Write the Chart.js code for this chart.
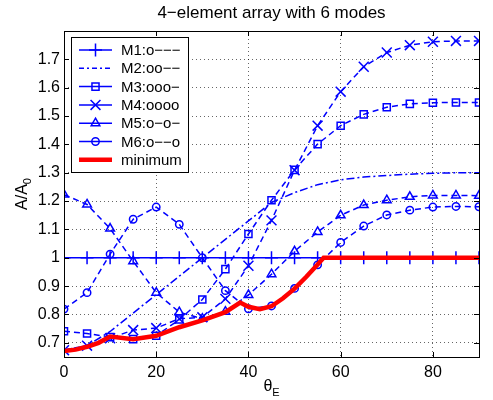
<!DOCTYPE html>
<html>
<head>
<meta charset="utf-8">
<script src="https://cdn.jsdelivr.net/npm/chart.js@4.4.1/dist/chart.umd.min.js"></script>
<style>
  html, body { margin: 0; padding: 0; background: #fff; }
</style>
</head>
<body>
<canvas id="modesChart" width="493" height="400"></canvas>
<script>
const titleText = "4\u2212element array with 6 modes";
const theta = [0, 5, 10, 15, 20, 25, 30, 35, 40, 45, 50, 55, 60, 65, 70, 75, 80, 85, 90];
const m1 = [1, 1, 1, 1, 1, 1, 1, 1, 1, 1, 1, 1, 1, 1, 1, 1, 1, 1, 1];
const m2 = [0.675, 0.69, 0.74, 0.805, 0.87, 0.935, 1.0, 1.065, 1.13, 1.195, 1.23, 1.258, 1.275, 1.285, 1.29, 1.295, 1.298, 1.3, 1.3];
const m3 = [0.741, 0.733, 0.72, 0.713, 0.725, 0.782, 0.853, 0.96, 1.084, 1.203, 1.31, 1.401, 1.466, 1.506, 1.531, 1.543, 1.547, 1.548, 1.548];
const m4 = [0.674, 0.69, 0.716, 0.745, 0.752, 0.785, 0.79, 0.855, 0.972, 1.132, 1.309, 1.466, 1.586, 1.674, 1.724, 1.75, 1.762, 1.765, 1.765];
const m5 = [1.223, 1.188, 1.103, 0.988, 0.877, 0.808, 0.785, 0.81, 0.869, 0.942, 1.023, 1.091, 1.15, 1.186, 1.203, 1.215, 1.22, 1.22, 1.219];
const m6 = [0.819, 0.877, 1.013, 1.136, 1.179, 1.118, 1.0, 0.884, 0.82, 0.83, 0.892, 0.975, 1.054, 1.112, 1.151, 1.168, 1.179, 1.181, 1.18];
const minTheta = [0, 2.5, 5, 7.5, 10, 15, 20, 25, 30, 35, 38.2, 40, 42.5, 45, 47.5, 50, 52.5, 55, 56.3, 90];
const minValues = [0.671, 0.676, 0.686, 0.7, 0.722, 0.713, 0.725, 0.755, 0.779, 0.808, 0.842, 0.827, 0.819, 0.829, 0.857, 0.891, 0.932, 0.976, 1.0, 1.0];
const xTicks = [0, 20, 40, 60, 80];
const yTicks = [0.7, 0.8, 0.9, 1.0, 1.1, 1.2, 1.3, 1.4, 1.5, 1.6, 1.7];

const fontFamily = '"Liberation Sans", Arial, Helvetica, sans-serif';
const blue = "#0000ff";
const red = "#ff0000";

function pts(xs, ys) {
  return xs.map((t, i) => ({ x: t, y: ys[i] }));
}

function modeSet(label, values, style, radius, dash, legendDash) {
  return {
    label: label,
    data: pts(theta, values),
    borderColor: blue,
    borderWidth: 1.5,
    borderDash: dash,
    legendDash: legendDash,
    pointStyle: style,
    pointRadius: radius,
    pointBorderWidth: 1.5,
    pointBorderColor: blue,
    pointBackgroundColor: "rgba(0,0,0,0)",
    tension: 0,
    order: 1,
  };
}

// title, axis box, inward ticks, axis labels and legend
const framePlugin = {
  id: "frame",
  afterDraw(chart) {
    const ctx = chart.ctx;
    const a = chart.chartArea;
    const xs = chart.scales.x;
    const ys = chart.scales.y;
    ctx.save();

    ctx.fillStyle = "#000";
    ctx.font = "17px " + fontFamily;
    ctx.textAlign = "center";
    ctx.textBaseline = "middle";
    ctx.fillText(titleText, (a.left + a.right) / 2, 13);
    ctx.textAlign = "left";

    ctx.strokeStyle = "#000";
    ctx.lineWidth = 1;
    ctx.setLineDash([]);
    ctx.strokeRect(a.left + 0.5, a.top + 0.5, a.right - a.left, a.bottom - a.top);
    ctx.beginPath();
    xTicks.forEach((v) => {
      const px = Math.round(xs.getPixelForValue(v)) + 0.5;
      ctx.moveTo(px, a.bottom);
      ctx.lineTo(px, a.bottom - 5);
      ctx.moveTo(px, a.top);
      ctx.lineTo(px, a.top + 5);
    });
    yTicks.forEach((v) => {
      const py = Math.round(ys.getPixelForValue(v)) + 0.5;
      ctx.moveTo(a.left, py);
      ctx.lineTo(a.left + 5, py);
      ctx.moveTo(a.right, py);
      ctx.lineTo(a.right - 5, py);
    });
    ctx.stroke();

    // x label: theta_E
    ctx.textBaseline = "alphabetic";
    ctx.font = "16px " + fontFamily;
    const th = "\u03b8";
    const w1 = ctx.measureText(th).width;
    ctx.font = "11px " + fontFamily;
    const w2 = ctx.measureText("E").width;
    const cx = (a.left + a.right) / 2 - (w1 + w2) / 2;
    ctx.font = "16px " + fontFamily;
    ctx.fillText(th, cx, 391);
    ctx.font = "11px " + fontFamily;
    ctx.fillText("E", cx + w1, 396);

    // y label: A/A_0
    ctx.save();
    ctx.translate(27, (a.top + a.bottom) / 2);
    ctx.rotate(-Math.PI / 2);
    ctx.font = "16px " + fontFamily;
    const s1 = "A/A";
    const v1 = ctx.measureText(s1).width;
    ctx.font = "11px " + fontFamily;
    const v2 = ctx.measureText("0").width;
    const sx = -(v1 + v2) / 2;
    ctx.font = "16px " + fontFamily;
    ctx.fillText(s1, sx, 0);
    ctx.font = "11px " + fontFamily;
    ctx.fillText("0", sx + v1, 4);
    ctx.restore();

    // legend
    const lx = a.left + 7, ly = a.top + 6, lw = 117, lh = 135;
    ctx.fillStyle = "#fff";
    ctx.fillRect(lx, ly, lw, lh);
    ctx.strokeStyle = "#000";
    ctx.lineWidth = 1;
    ctx.strokeRect(lx + 0.5, ly + 0.5, lw, lh);
    ctx.font = "15px " + fontFamily;
    ctx.textBaseline = "middle";
    chart.data.datasets.forEach((ds, i) => {
      const ry = ly + 13 + i * 18.3;
      const x0 = lx + 8, x1 = lx + 41;
      ctx.strokeStyle = ds.borderColor;
      ctx.lineWidth = ds.borderWidth;
      ctx.setLineDash(ds.legendDash || []);
      ctx.beginPath();
      ctx.moveTo(x0, ry);
      ctx.lineTo(x1, ry);
      ctx.stroke();
      ctx.setLineDash([]);
      if (ds.pointRadius > 0 && Chart.helpers && Chart.helpers.drawPoint) {
        ctx.lineWidth = ds.pointBorderWidth;
        ctx.fillStyle = "rgba(0,0,0,0)";
        Chart.helpers.drawPoint(ctx, {
          pointStyle: ds.pointStyle,
          radius: ds.pointRadius,
          rotation: 0,
          borderWidth: ds.pointBorderWidth,
        }, (x0 + x1) / 2, ry);
      }
      ctx.fillStyle = "#000";
      ctx.fillText(ds.label, lx + 50, ry + 1);
    });
    ctx.restore();
  },
};

const datasets = [
  modeSet("M1:o\u2212\u2212\u2212", m1, "cross", 6.5, [], []),
  modeSet("M2:oo\u2212\u2212", m2, false, 0, [8, 3, 2, 3], [5, 3, 2, 3]),
  modeSet("M3:ooo\u2212", m3, "rect", 5, [6, 4], []),
  modeSet("M4:oooo", m4, "crossRot", 7, [6, 4], []),
  modeSet("M5:o\u2212o\u2212", m5, "triangle", 5, [6, 4], []),
  modeSet("M6:o\u2212\u2212o", m6, "circle", 3.7, [6, 4], []),
  {
    label: "minimum",
    data: pts(minTheta, minValues),
    borderColor: red,
    borderWidth: 4.5,
    pointRadius: 0,
    tension: 0,
    order: 0,
  },
];

const chart = new Chart(document.getElementById("modesChart").getContext("2d"), {
  type: "line",
  data: { datasets: datasets },
  options: {
    responsive: false,
    animation: false,
    devicePixelRatio: 1,
    layout: { padding: { left: 0, right: 14, top: 31, bottom: 0 } },
    plugins: {
      legend: { display: false },
      tooltip: { enabled: false },
      title: { display: false },
    },
    scales: {
      x: {
        type: "linear",
        min: 0,
        max: 90,
        afterBuildTicks: (s) => {
          s.ticks = xTicks.map((v) => ({ value: v }));
        },
        afterFit: (s) => {
          s.height = 43;
        },
        grid: { color: "rgba(0,0,0,0.6)", lineWidth: 1, drawTicks: false },
        border: { display: false, dash: [1, 3] },
        ticks: {
          color: "#000",
          padding: 6,
          maxRotation: 0,
          font: { size: 16, family: fontFamily },
        },
      },
      y: {
        type: "linear",
        min: 0.65,
        max: 1.8,
        afterBuildTicks: (s) => {
          s.ticks = yTicks.map((v) => ({ value: v }));
        },
        afterFit: (s) => {
          s.width = 64;
        },
        grid: { color: "rgba(0,0,0,0.6)", lineWidth: 1, drawTicks: false },
        border: { display: false, dash: [1, 3] },
        ticks: {
          color: "#000",
          padding: 4,
          font: { size: 16, family: fontFamily },
          callback: (v) => String(Math.round(v * 10) / 10),
        },
      },
    },
  },
  plugins: [framePlugin],
});
</script>
</body>
</html>
